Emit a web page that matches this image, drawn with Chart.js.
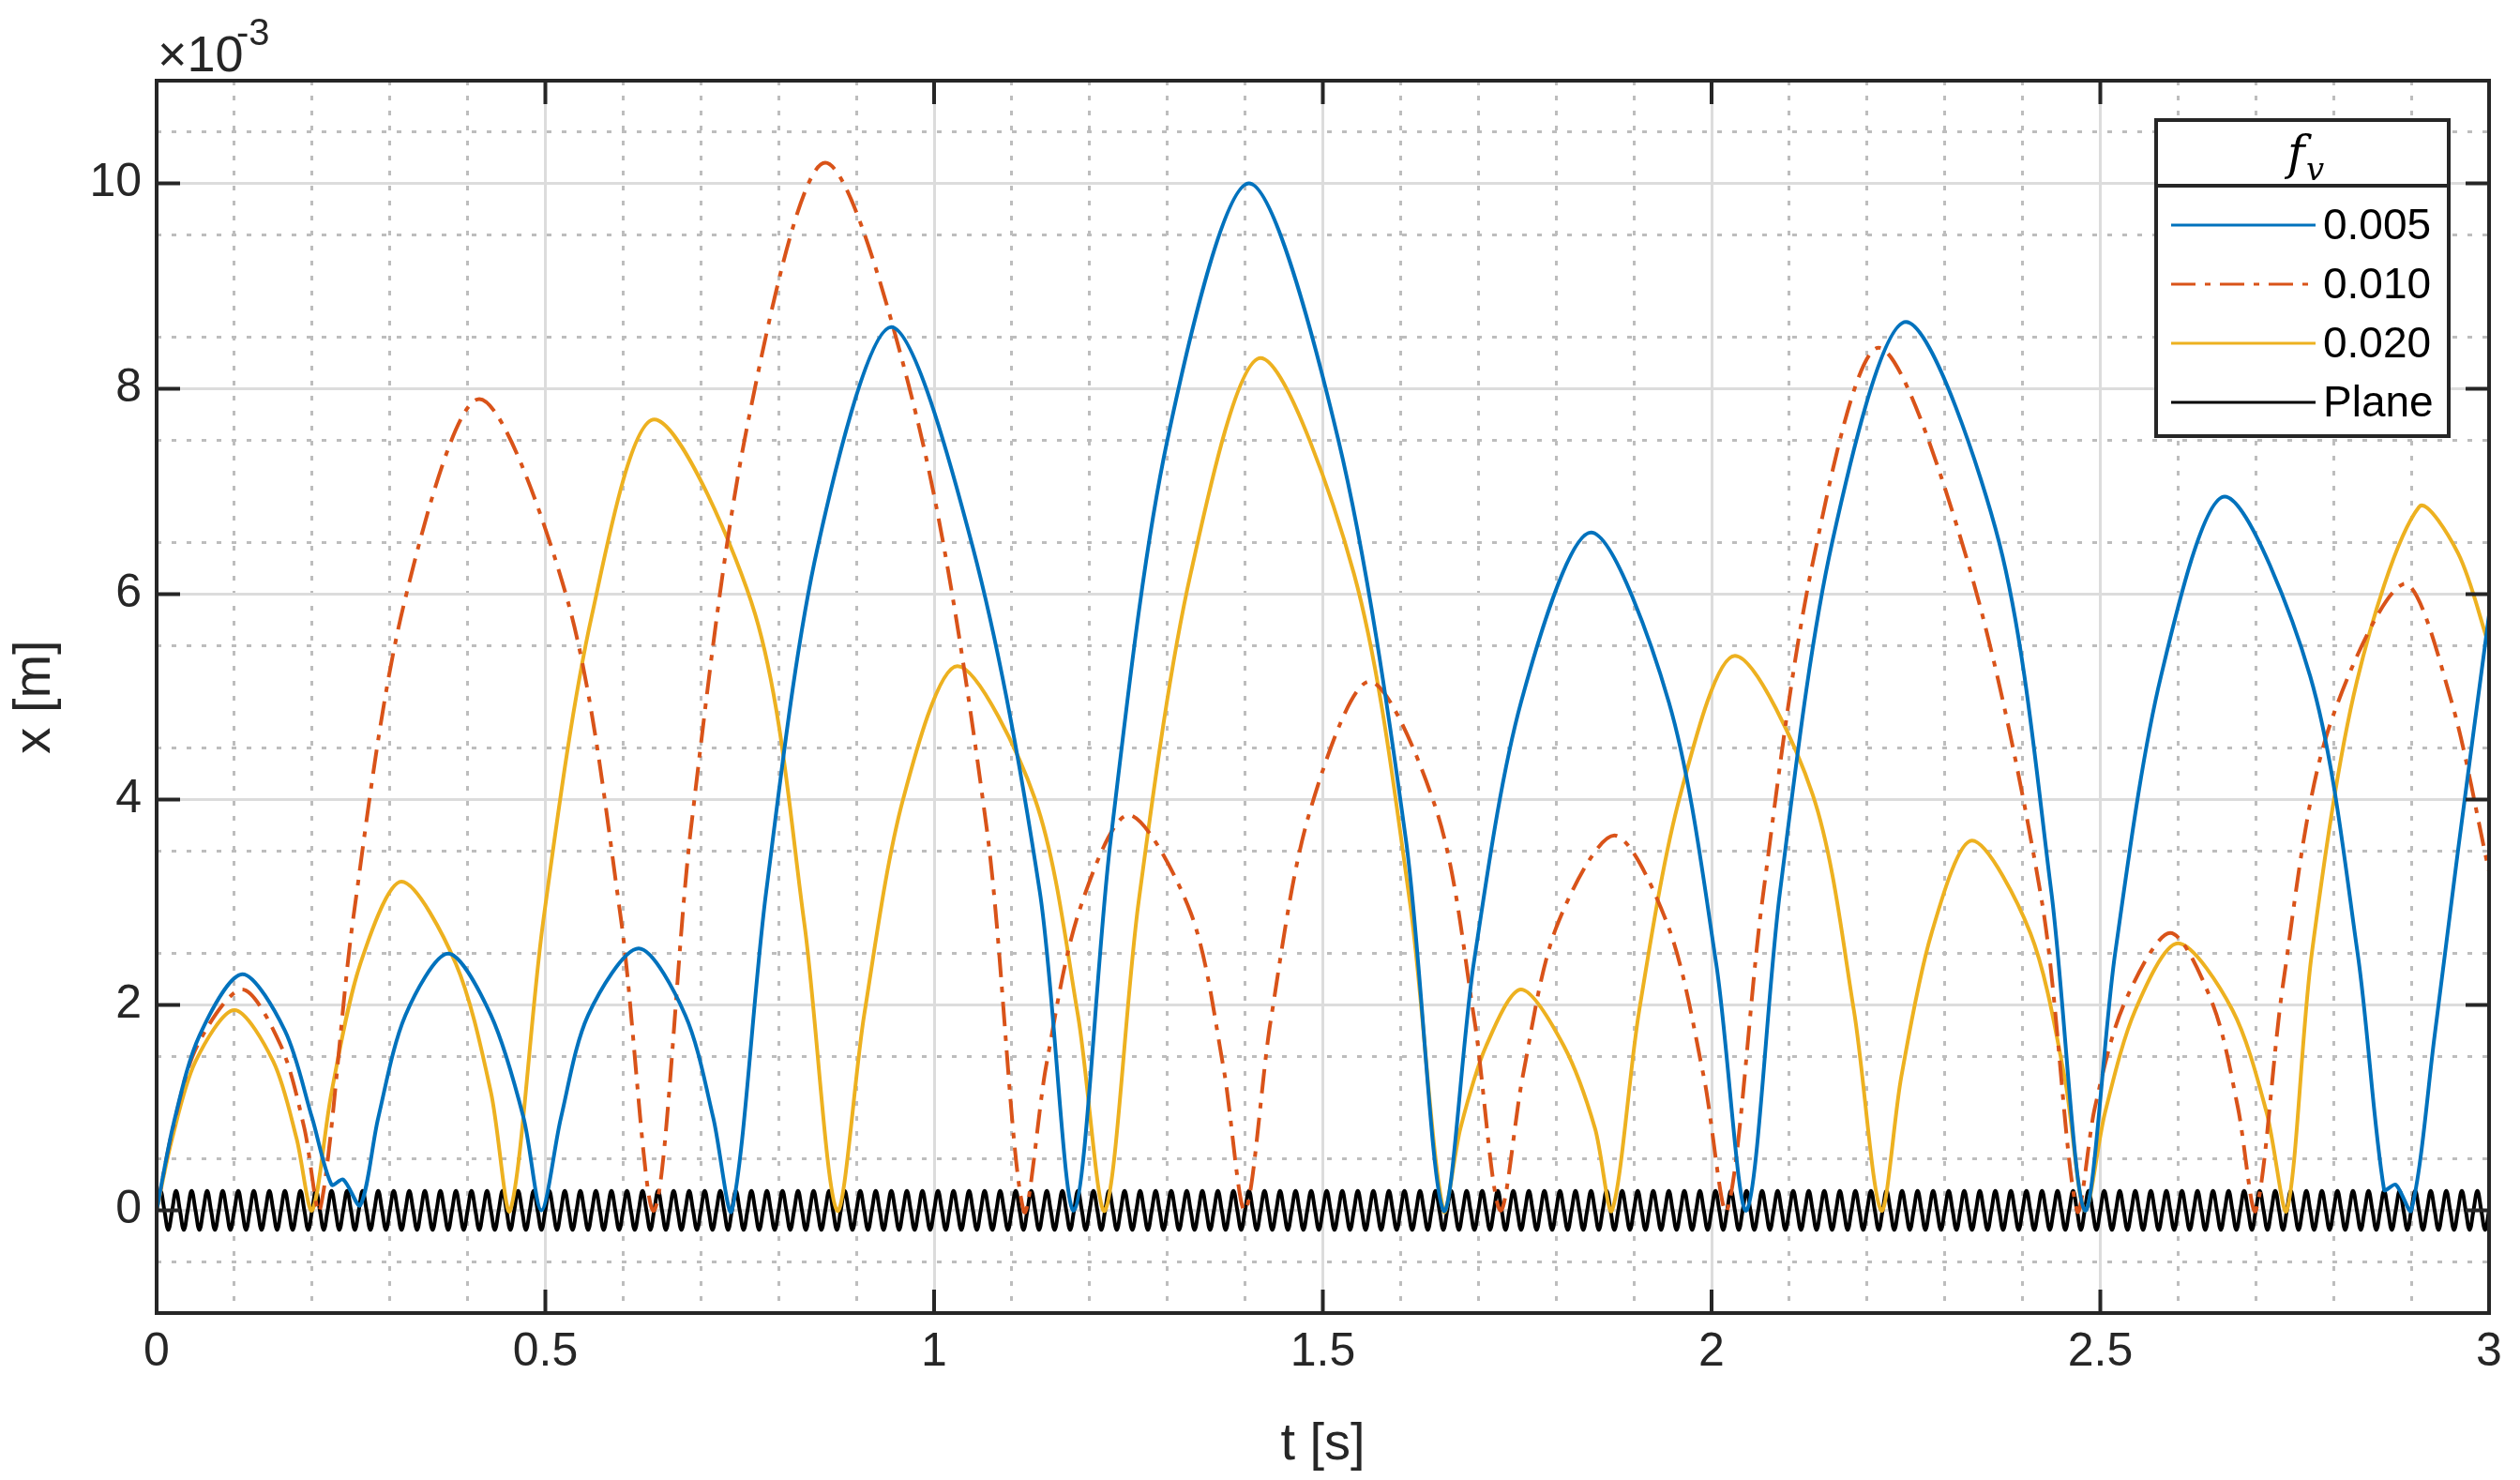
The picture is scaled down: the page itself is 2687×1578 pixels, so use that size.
<!DOCTYPE html>
<html>
<head>
<meta charset="utf-8">
<script src="https://cdn.jsdelivr.net/npm/chart.js@4"></script>
<style>
  html, body { margin: 0; padding: 0; background: #fff; }
  #wrap { width: 2687px; height: 1578px; }
</style>
</head>
<body>
<div id="wrap"><canvas id="myChart" width="2687" height="1578"></canvas></div>
<script>
// values in 1e-3 m: [t, x]
const fv005 = [
  [0,0],[0.022,0.85],[0.055,1.7],[0.11,2.3],[0.165,1.75],[0.2,0.9],[0.225,0.25],[0.24,0.3],[0.262,0.05],
  [0.285,0.9],[0.32,1.9],[0.375,2.5],[0.43,1.9],[0.472,0.9],[0.495,0],
  [0.52,0.9],[0.555,1.9],[0.62,2.55],[0.68,1.9],[0.716,0.9],[0.74,0],
  [0.784,3.1],[0.85,6.45],[0.945,8.6],[1.05,6.45],[1.136,3.1],[1.18,0],
  [1.227,3.6],[1.3,7.5],[1.405,10],[1.52,7.5],[1.607,3.6],[1.655,0],
  [1.694,2.4],[1.755,4.95],[1.845,6.6],[1.945,4.95],[2.006,2.4],[2.045,0],
  [2.088,3.1],[2.155,6.5],[2.25,8.65],[2.37,6.5],[2.437,3.1],[2.48,0],
  [2.519,2.5],[2.578,5.2],[2.66,6.95],[2.77,5.2],[2.831,2.5],[2.865,0.2],[2.88,0.25],[2.9,0],
  [2.93,1.7],[2.96,3.5],[3.0,5.8]
];
const fv010 = [
  [0,0],[0.021,0.8],[0.052,1.6],[0.11,2.15],[0.16,1.6],[0.19,0.8],[0.21,0],
  [0.253,2.85],[0.318,5.9],[0.415,7.9],[0.53,5.9],[0.597,2.85],[0.64,0],
  [0.687,3.7],[0.76,7.65],[0.86,10.2],[0.98,7.65],[1.068,3.7],[1.115,0],
  [1.144,1.4],[1.186,2.9],[1.25,3.85],[1.33,2.9],[1.372,1.4],[1.40,0],
  [1.433,1.85],[1.482,3.85],[1.56,5.15],[1.648,3.85],[1.695,1.85],[1.728,0],
  [1.757,1.3],[1.8,2.75],[1.875,3.65],[1.945,2.75],[1.99,1.3],[2.02,0],
  [2.065,3.0],[2.13,6.3],[2.215,8.4],[2.33,6.3],[2.425,3.0],[2.47,0],
  [2.493,1.0],[2.53,2.0],[2.59,2.7],[2.645,2.0],[2.677,1.0],[2.70,0],
  [2.735,2.2],[2.79,4.6],[2.89,6.1],[2.95,5.0],[3.0,3.3]
];
const fv020 = [
  [0,0],[0.02,0.7],[0.05,1.45],[0.1,1.95],[0.15,1.45],[0.18,0.7],[0.2,0],
  [0.225,1.15],[0.262,2.4],[0.315,3.2],[0.385,2.4],[0.43,1.15],[0.455,0],
  [0.497,2.8],[0.56,5.8],[0.64,7.7],[0.77,5.8],[0.833,2.8],[0.875,0],
  [0.91,1.9],[0.96,4.0],[1.03,5.3],[1.13,4.0],[1.185,1.9],[1.22,0],
  [1.263,3.0],[1.33,6.2],[1.42,8.3],[1.54,6.2],[1.612,3.0],[1.655,0],
  [1.677,0.8],[1.71,1.6],[1.755,2.15],[1.81,1.6],[1.85,0.8],[1.872,0],
  [1.907,1.95],[1.96,4.05],[2.03,5.4],[2.13,4.05],[2.183,1.95],[2.218,0],
  [2.244,1.3],[2.283,2.7],[2.335,3.6],[2.41,2.7],[2.454,1.3],[2.48,0],
  [2.506,0.95],[2.545,1.95],[2.6,2.6],[2.67,1.95],[2.714,0.95],[2.74,0],
  [2.772,2.5],[2.83,5.15],[2.91,6.85],[2.96,6.4],[3.0,5.5]
];
// plane: one period (0.02 s), repeated to 3 s
const planeCycle = [0, 0.19, 0, -0.19];
const planePeriod = 0.02;
const seriesLabels = ["0.005", "0.010", "0.020", "Plane"];
const seriesColors = ["#0072BD", "#D95319", "#EDB120", "#000000"];
const xTicks = [0, 0.5, 1, 1.5, 2, 2.5, 3];
const yTicks = [0, 2, 4, 6, 8, 10];

const planeData = [];
for (let k = 0; k * planePeriod < 3 + 1e-9; k++) {
  planeCycle.forEach((v, i) => {
    const t = k * planePeriod + i * planePeriod / 4;
    if (t <= 3 + 1e-9) planeData.push({ x: t, y: v });
  });
}

const toXY = (arr) => arr.map((p) => ({ x: p[0], y: p[1] }));
const minorX = [], minorY = [];
for (let i = 1; i < 30; i++) if (i % 5) minorX.push(i / 10);
for (let i = -1; i <= 21; i += 2) minorY.push(i / 2);

const FONT = "'Liberation Sans', Arial, sans-serif";
const TXT = "#262626";

const frame = {
  id: "frame",
  afterDatasetsDraw(chart) {
    const { ctx, chartArea: a, scales } = chart;
    ctx.save();
    ctx.strokeStyle = TXT;
    ctx.lineWidth = 4;
    ctx.strokeRect(a.left, a.top, a.right - a.left, a.bottom - a.top);
    // inward tick marks
    ctx.beginPath();
    xTicks.forEach((v) => {
      const x = scales.x.getPixelForValue(v);
      ctx.moveTo(x, a.bottom); ctx.lineTo(x, a.bottom - 25);
      ctx.moveTo(x, a.top); ctx.lineTo(x, a.top + 25);
    });
    yTicks.forEach((v) => {
      const y = scales.y.getPixelForValue(v);
      ctx.moveTo(a.left, y); ctx.lineTo(a.left + 25, y);
      ctx.moveTo(a.right, y); ctx.lineTo(a.right - 25, y);
    });
    ctx.stroke();
    // exponent
    ctx.fillStyle = TXT;
    ctx.textBaseline = "alphabetic";
    ctx.font = "54px " + FONT;
    ctx.fillText("\u00d710", 168, 76);
    ctx.font = "40px " + FONT;
    ctx.fillText("-3", 252, 48);
    // legend
    const lx = 2299, ly = 128, lw = 312, lh = 337;
    ctx.fillStyle = "#fff";
    ctx.fillRect(lx, ly, lw, lh);
    ctx.strokeStyle = TXT;
    ctx.lineWidth = 4;
    ctx.strokeRect(lx, ly, lw, lh);
    ctx.beginPath(); ctx.moveTo(lx, ly + 70); ctx.lineTo(lx + lw, ly + 70); ctx.stroke();
    ctx.fillStyle = "#000";
    ctx.font = "italic 50px 'DejaVu Serif', serif";
    ctx.fillText("f", lx + 140, ly + 52);
    ctx.font = "italic 34px 'DejaVu Serif', serif";
    ctx.fillText("v", lx + 160, ly + 64);
    chart.data.datasets.forEach((ds, i) => {
      const y = ly + 112 + i * 63;
      ctx.beginPath();
      ctx.strokeStyle = ds.borderColor;
      ctx.lineWidth = 3;
      ctx.setLineDash(ds.borderDash || []);
      ctx.moveTo(lx + 16, y); ctx.lineTo(lx + 170, y);
      ctx.stroke();
      ctx.setLineDash([]);
      ctx.fillStyle = "#000";
      ctx.font = "46px " + FONT;
      ctx.textBaseline = "middle";
      ctx.fillText(ds.label, lx + 178, y + 2);
      ctx.textBaseline = "alphabetic";
    });
    ctx.restore();
  },
};

const mk = (label, data, i, extra) =>
  Object.assign({ label, data, borderColor: seriesColors[i], borderWidth: 4, pointRadius: 0, tension: 0.3, fill: false }, extra || {});

const config = {
  type: "line",
  data: {
    datasets: [
      mk(seriesLabels[0], toXY(fv005), 0),
      mk(seriesLabels[1], toXY(fv010), 1, { borderDash: [26, 10, 6, 10] }),
      mk(seriesLabels[2], toXY(fv020), 2),
      mk(seriesLabels[3], planeData, 3, { tension: 0.4 }),
    ],
  },
  options: {
    responsive: false,
    animation: false,
    layout: { padding: { top: 86, right: 33, left: 0, bottom: 0 } },
    plugins: { legend: { display: false }, tooltip: { enabled: false } },
    scales: {
      xm: {
        type: "linear", position: "bottom", min: 0, max: 3,
        afterBuildTicks: (s) => { s.ticks = minorX.map((v) => ({ value: v })); },
        afterFit: (s) => { s.height = 0; },
        ticks: { display: false },
        border: { display: false, dash: [5, 11] },
        grid: { color: "#bdbdbd", lineWidth: 3, drawTicks: false },
      },
      ym: {
        type: "linear", position: "left", min: -1, max: 11,
        afterBuildTicks: (s) => { s.ticks = minorY.map((v) => ({ value: v })); },
        afterFit: (s) => { s.width = 0; },
        ticks: { display: false },
        border: { display: false, dash: [5, 11] },
        grid: { color: "#bdbdbd", lineWidth: 3, drawTicks: false },
      },
      x: {
        type: "linear", position: "bottom", min: 0, max: 3,
        afterBuildTicks: (s) => { s.ticks = xTicks.map((v) => ({ value: v })); },
        afterFit: (s) => { s.height = 178; },
        ticks: { color: TXT, font: { family: FONT, size: 50 }, padding: 12, maxRotation: 0, callback: (v) => String(v) },
        border: { display: false },
        grid: { color: "#dcdcdc", lineWidth: 3, drawTicks: false },
        title: { display: true, text: "t [s]", color: TXT, font: { family: FONT, size: 56 }, padding: { top: 0 } },
      },
      y: {
        type: "linear", position: "left", min: -1, max: 11,
        afterBuildTicks: (s) => { s.ticks = yTicks.map((v) => ({ value: v })); },
        afterFit: (s) => { s.width = 167; },
        ticks: { color: TXT, font: { family: FONT, size: 50 }, padding: 16, callback: (v) => String(v) },
        border: { display: false },
        grid: { color: "#dcdcdc", lineWidth: 3, drawTicks: false },
        title: { display: true, text: "x [m]", color: TXT, font: { family: FONT, size: 56 }, padding: { bottom: 4 } },
      },
    },
  },
  plugins: [frame],
};

Chart.defaults.font.family = FONT;
const myChart = new Chart("myChart", config);
</script>
</body>
</html>
